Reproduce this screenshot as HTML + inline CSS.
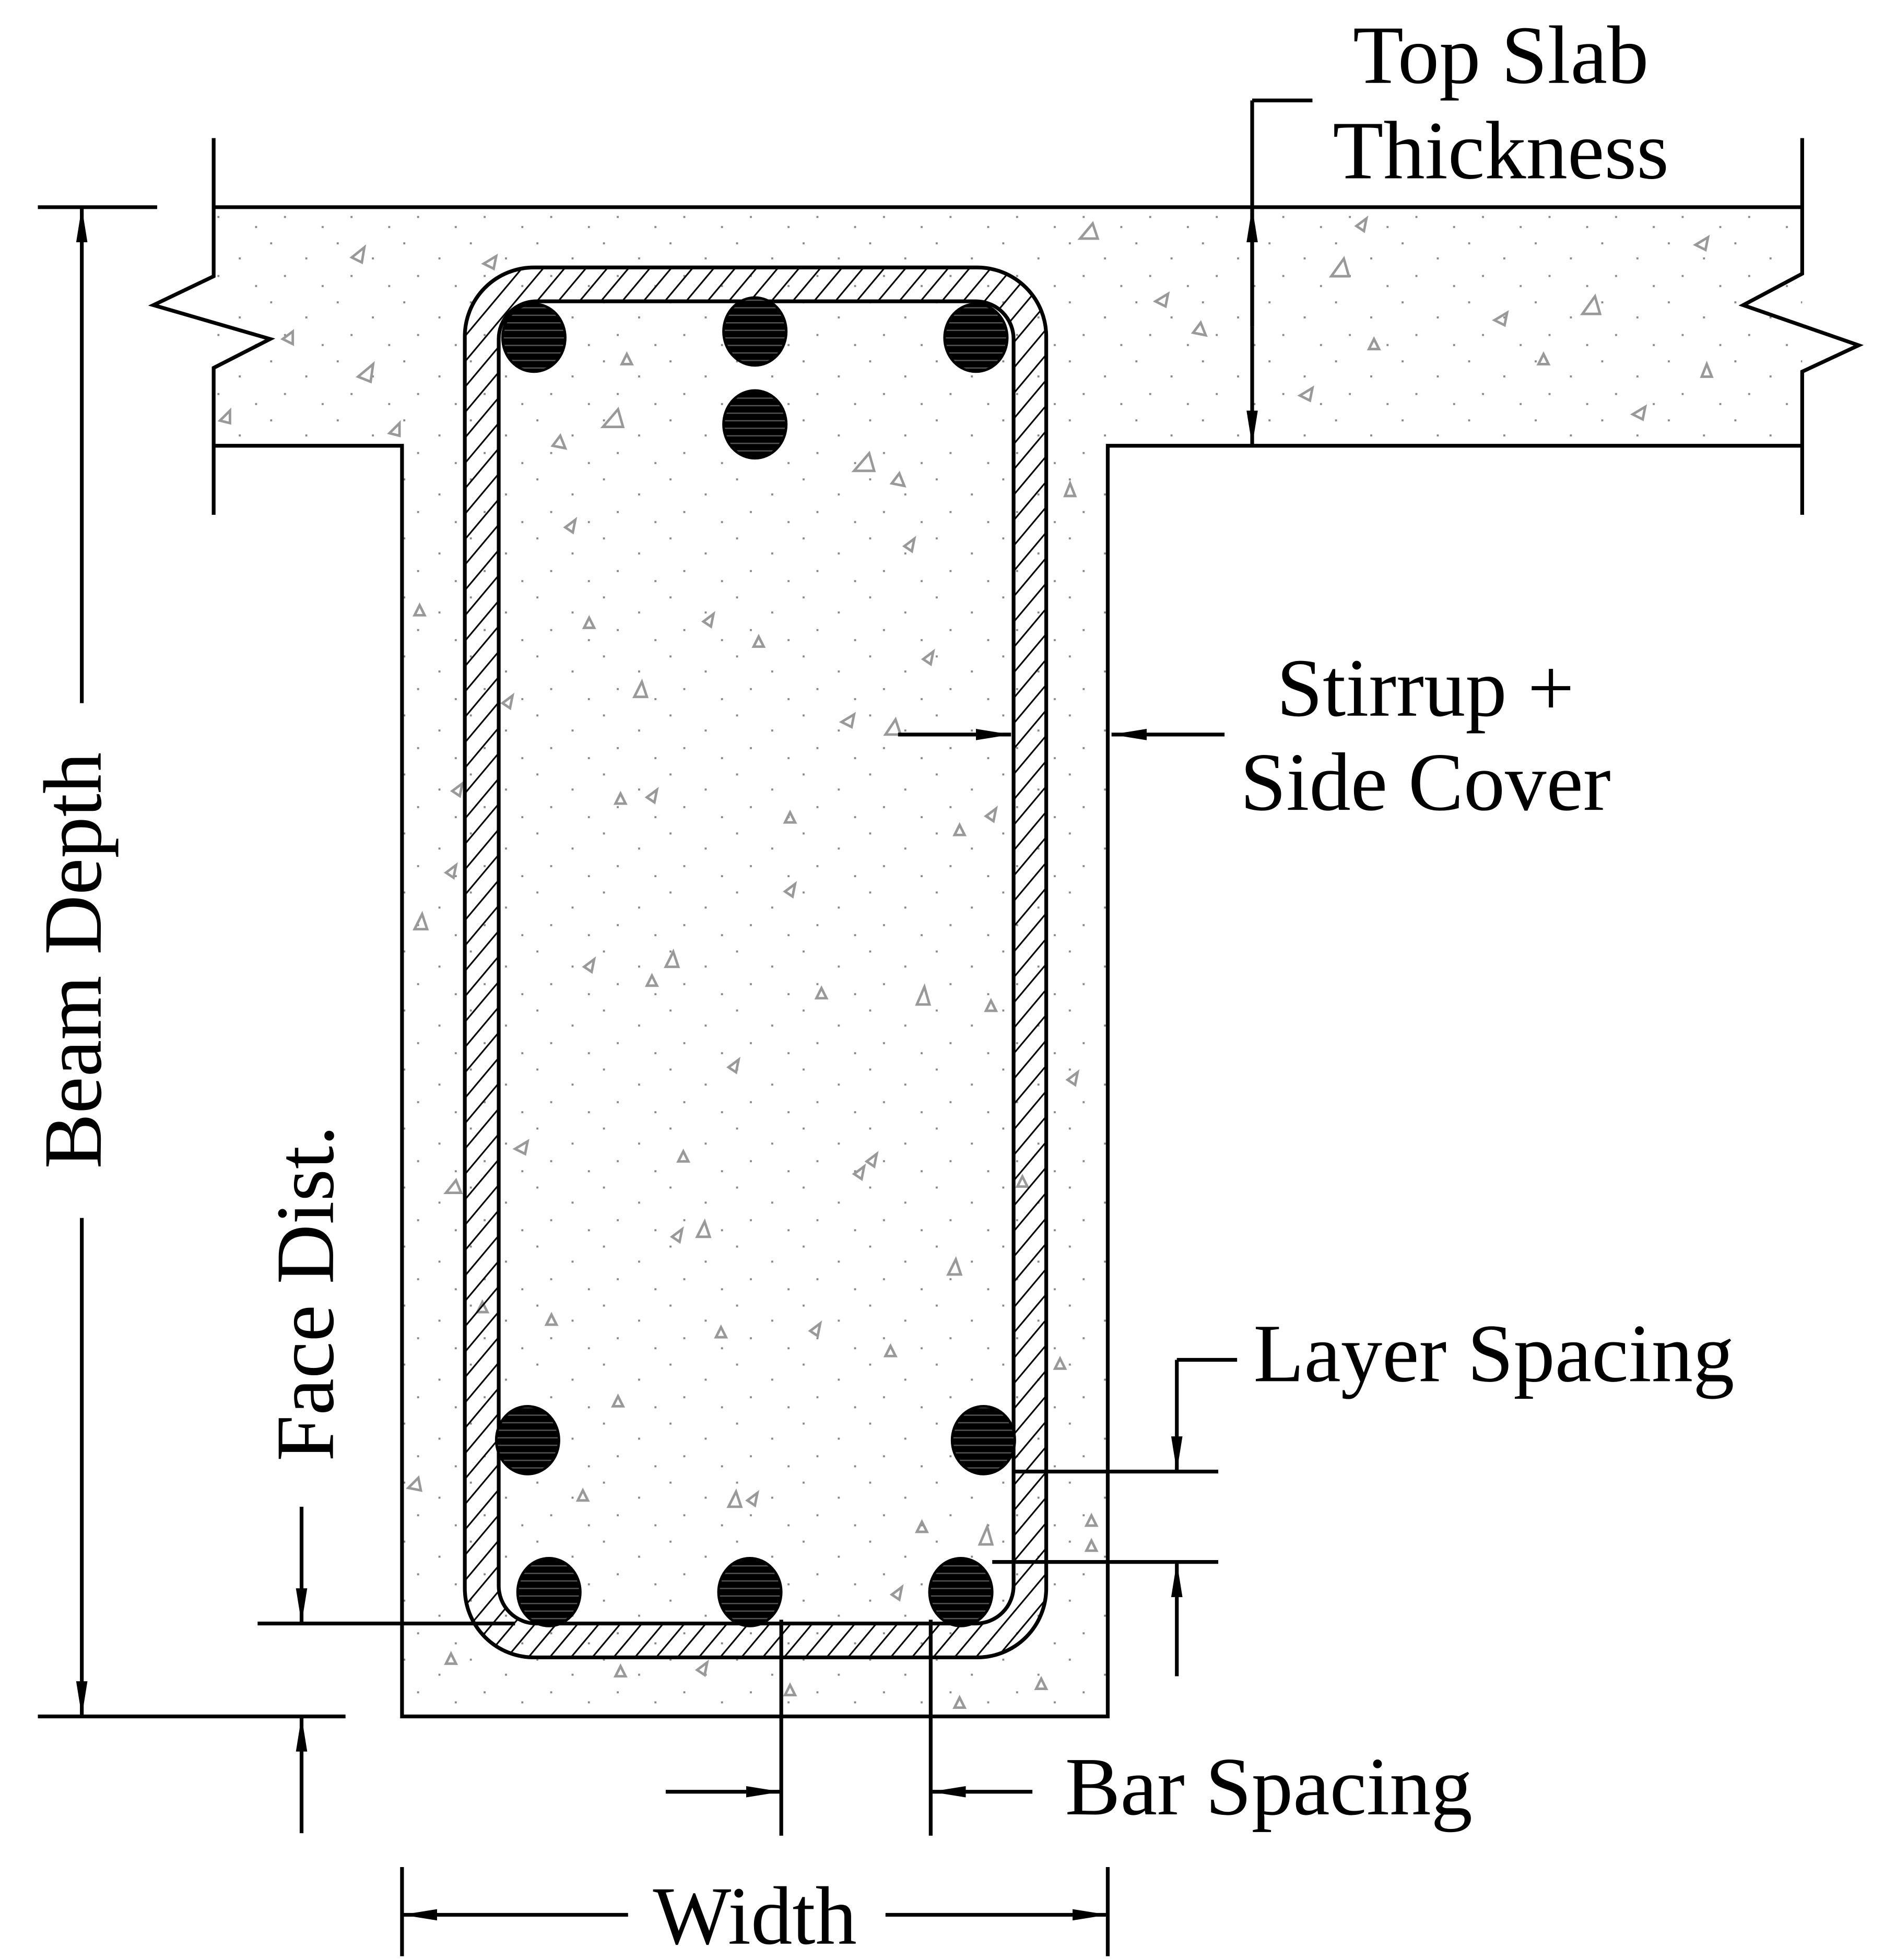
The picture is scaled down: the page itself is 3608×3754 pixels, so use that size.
<!DOCTYPE html>
<html><head><meta charset="utf-8"><style>
html,body{margin:0;padding:0;background:#fff;}
svg{display:block;}
text{font-family:"Liberation Serif",serif;fill:#000;}
</style></head><body>
<svg width="3608" height="3754" viewBox="0 0 1500 1561" xmlns="http://www.w3.org/2000/svg">
<defs>
<pattern id="dots" width="53" height="47" patternUnits="userSpaceOnUse">
<rect x="3" y="5" width="1.6" height="1.6" fill="#888"/>
<rect x="31" y="17" width="1.6" height="1.6" fill="#888"/>
<rect x="14" y="31" width="1.6" height="1.6" fill="#888"/>
<rect x="44" y="39" width="1.6" height="1.6" fill="#888"/>
</pattern>
<pattern id="hatch" width="13" height="13" patternUnits="userSpaceOnUse" patternTransform="rotate(40)">
<line x1="0" y1="0" x2="0" y2="13" stroke="#000" stroke-width="2.6"/>
</pattern>
<pattern id="bar" width="10" height="6" patternUnits="userSpaceOnUse">
<rect width="10" height="6" fill="#000"/>
<rect y="4.6" width="10" height="1" fill="#555"/>
</pattern>
<marker id="ah" viewBox="0 0 28 9" refX="28" refY="4.5" markerWidth="28" markerHeight="9" markerUnits="userSpaceOnUse" orient="auto">
<path d="M0,0 L28,4.5 L0,9 Z" fill="#000"/>
</marker>
</defs>

<path d="M170,165 H1435 V355 H882 V1367 H320 V355 H170 Z" fill="url(#dots)"/>
<g fill="none" stroke="#999" stroke-width="2">
<path d="M280,205 l10,-8 l-2,12 z"/><path d="M285,300 l12,-10 l-2,14 z"/><path d="M225,270 l8,-6 l0,10 z"/>
<path d="M175,335 l8,-8 l0,10 z"/><path d="M310,345 l8,-8 l0,10 z"/><path d="M385,210 l10,-6 l-2,10 z"/>
<path d="M480,340 l12,-14 l4,14 z"/><path d="M440,355 l6,-8 l4,10 z"/><path d="M495,290 l4,-8 l4,8 z"/>
<path d="M680,375 l12,-14 l4,14 z"/><path d="M710,385 l6,-8 l4,10 z"/><path d="M450,420 l8,-6 l-2,10 z"/>
<path d="M860,190 l10,-12 l4,12 z"/><path d="M920,240 l10,-6 l-2,10 z"/><path d="M950,265 l6,-8 l4,10 z"/>
<path d="M1060,220 l10,-14 l4,14 z"/><path d="M1080,180 l8,-6 l-2,10 z"/><path d="M1090,278 l4,-8 l4,8 z"/>
<path d="M1190,255 l10,-6 l-2,10 z"/><path d="M1260,250 l10,-14 l4,14 z"/><path d="M1225,290 l4,-8 l4,8 z"/>
<path d="M1350,195 l10,-6 l-2,10 z"/><path d="M1355,300 l4,-10 l4,10 z"/><path d="M1300,330 l10,-6 l-2,10 z"/>
<path d="M1035,315 l10,-6 l-2,10 z"/><path d="M848,395 l4,-10 l4,10 z"/><path d="M720,435 l8,-6 l-2,10 z"/>
<path d="M465,500 l4,-8 l4,8 z"/><path d="M560,495 l8,-6 l-2,10 z"/><path d="M600,515 l4,-8 l4,8 z"/>
<path d="M505,555 l6,-12 l4,12 z"/><path d="M735,525 l8,-6 l-2,10 z"/><path d="M670,575 l10,-6 l-2,10 z"/>
<path d="M705,585 l8,-12 l4,12 z"/><path d="M400,560 l8,-6 l-2,10 z"/><path d="M330,490 l4,-8 l4,8 z"/>
<path d="M490,640 l4,-8 l4,8 z"/><path d="M515,635 l8,-6 l-2,10 z"/><path d="M625,655 l4,-8 l4,8 z"/>
<path d="M760,665 l4,-8 l4,8 z"/><path d="M785,650 l8,-6 l-2,10 z"/><path d="M625,710 l8,-6 l-2,10 z"/>
<path d="M330,740 l6,-12 l4,12 z"/><path d="M355,695 l8,-6 l-2,10 z"/><path d="M360,630 l8,-6 l-2,10 z"/>
<path d="M465,770 l8,-6 l-2,10 z"/><path d="M515,785 l4,-8 l4,8 z"/><path d="M530,770 l6,-12 l4,12 z"/>
<path d="M650,795 l4,-8 l4,8 z"/><path d="M730,800 l6,-14 l4,14 z"/><path d="M785,805 l4,-8 l4,8 z"/>
<path d="M580,850 l8,-6 l-2,10 z"/><path d="M850,860 l8,-6 l-2,10 z"/><path d="M410,915 l10,-6 l-2,10 z"/>
<path d="M540,925 l4,-8 l4,8 z"/><path d="M680,935 l8,-6 l-2,10 z"/><path d="M690,925 l8,-6 l-2,10 z"/>
<path d="M355,950 l8,-10 l4,10 z"/><path d="M535,985 l8,-6 l-2,10 z"/><path d="M555,985 l6,-12 l4,12 z"/>
<path d="M755,1015 l6,-12 l4,12 z"/><path d="M810,945 l4,-8 l4,8 z"/><path d="M380,1045 l4,-8 l4,8 z"/>
<path d="M435,1055 l4,-8 l4,8 z"/><path d="M570,1065 l4,-8 l4,8 z"/><path d="M645,1060 l8,-6 l-2,10 z"/>
<path d="M705,1080 l4,-8 l4,8 z"/><path d="M488,1120 l4,-8 l4,8 z"/><path d="M840,1090 l4,-8 l4,8 z"/>
<path d="M325,1185 l8,-8 l2,10 z"/><path d="M460,1195 l4,-8 l4,8 z"/><path d="M580,1200 l6,-12 l4,12 z"/>
<path d="M595,1195 l8,-6 l-2,10 z"/><path d="M730,1220 l4,-8 l4,8 z"/><path d="M780,1230 l6,-14 l4,14 z"/>
<path d="M865,1215 l4,-8 l4,8 z"/><path d="M865,1235 l4,-8 l4,8 z"/><path d="M355,1325 l4,-8 l4,8 z"/>
<path d="M490,1335 l4,-8 l4,8 z"/><path d="M555,1330 l8,-6 l-2,10 z"/><path d="M625,1350 l4,-8 l4,8 z"/>
<path d="M760,1360 l4,-8 l4,8 z"/><path d="M825,1345 l4,-8 l4,8 z"/><path d="M710,1270 l8,-6 l-2,10 z"/>
</g>

<g fill="none" stroke="#000" stroke-width="3">
<path d="M170,165 H1435"/>
<path d="M30,165 H125"/>
<path d="M170,110 V220 L122,243 L215,270 L170,293 V410"/>
<path d="M1435,110 V218 L1388,243 L1480,275 L1435,296 V410"/>
<path d="M170,355 H320 V1367 H882 V355 H1435"/>
<path d="M30,1367 H275"/>
</g>

<path fill-rule="evenodd" fill="url(#hatch)" stroke="#000" stroke-width="3"
 d="M425,213 H778 A55,55 0 0 1 833,268 V1265 A55,55 0 0 1 778,1320 H425 A55,55 0 0 1 370,1265 V268 A55,55 0 0 1 425,213 Z
    M427,240 H777 A30,30 0 0 1 807,270 V1263 A30,30 0 0 1 777,1293 H427 A30,30 0 0 1 397,1263 V270 A30,30 0 0 1 427,240 Z"/>

<g fill="url(#bar)" stroke="#000" stroke-width="2">
<ellipse cx="425" cy="269" rx="25" ry="27"/>
<ellipse cx="601" cy="264" rx="25" ry="27"/>
<ellipse cx="777" cy="269" rx="25" ry="27"/>
<ellipse cx="601" cy="338" rx="25" ry="27"/>
<ellipse cx="420" cy="1147" rx="25" ry="27"/>
<ellipse cx="783" cy="1147" rx="25" ry="27"/>
<ellipse cx="437" cy="1268" rx="25" ry="27"/>
<ellipse cx="597" cy="1268" rx="25" ry="27"/>
<ellipse cx="765" cy="1268" rx="25" ry="27"/>
</g>

<g fill="none" stroke="#000" stroke-width="3">
<line x1="65" y1="560" x2="65" y2="165" marker-end="url(#ah)"/>
<line x1="65" y1="970" x2="65" y2="1367" marker-end="url(#ah)"/>
<line x1="997" y1="80" x2="1045" y2="80"/>
<line x1="997" y1="80" x2="997" y2="260"/>
<line x1="997" y1="260" x2="997" y2="165" marker-end="url(#ah)"/>
<line x1="997" y1="260" x2="997" y2="355" marker-end="url(#ah)"/>
<line x1="715" y1="585" x2="805" y2="585" marker-end="url(#ah)"/>
<line x1="975" y1="585" x2="885" y2="585" marker-end="url(#ah)"/>
<line x1="808" y1="1172" x2="970" y2="1172"/>
<line x1="790" y1="1244" x2="970" y2="1244"/>
<line x1="985" y1="1083" x2="937" y2="1083"/>
<line x1="937" y1="1083" x2="937" y2="1172" marker-end="url(#ah)"/>
<line x1="937" y1="1335" x2="937" y2="1244" marker-end="url(#ah)"/>
<line x1="205" y1="1293" x2="410" y2="1293"/>
<line x1="240" y1="1200" x2="240" y2="1293" marker-end="url(#ah)"/>
<line x1="240" y1="1460" x2="240" y2="1367" marker-end="url(#ah)"/>
<line x1="622" y1="1290" x2="622" y2="1462"/>
<line x1="741" y1="1290" x2="741" y2="1462"/>
<line x1="530" y1="1427" x2="622" y2="1427" marker-end="url(#ah)"/>
<line x1="822" y1="1427" x2="741" y2="1427" marker-end="url(#ah)"/>
<line x1="320" y1="1487" x2="320" y2="1558"/>
<line x1="882" y1="1487" x2="882" y2="1558"/>
<line x1="500" y1="1525" x2="320" y2="1525" marker-end="url(#ah)"/>
<line x1="705" y1="1525" x2="882" y2="1525" marker-end="url(#ah)"/>
</g>

<g font-size="66">
<text x="1195" y="66" text-anchor="middle">Top Slab</text>
<text x="1195" y="142" text-anchor="middle">Thickness</text>
<text x="1135" y="570" text-anchor="middle">Stirrup +</text>
<text x="1135" y="645" text-anchor="middle">Side Cover</text>
<text x="998" y="1100">Layer Spacing</text>
<text x="848" y="1445">Bar Spacing</text>
<text x="601" y="1548" text-anchor="middle">Width</text>
<text transform="translate(80,765) rotate(-90)" text-anchor="middle">Beam Depth</text>
<text transform="translate(265,1030) rotate(-90)" text-anchor="middle">Face Dist.</text>
</g>
</svg>
</body></html>
